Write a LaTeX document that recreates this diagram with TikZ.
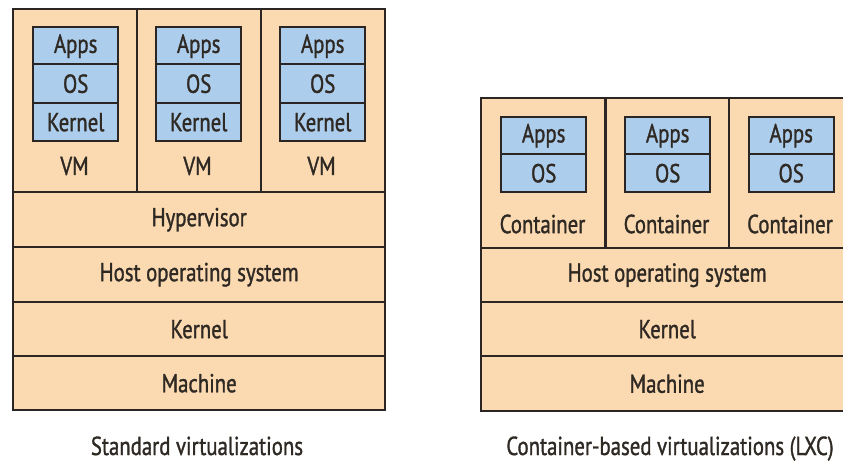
\documentclass[tikz,border=0pt]{standalone}
\usepackage{fontspec}
\setmainfont{PT Sans}[FakeStretch=0.8, FakeBold=1.2]
\definecolor{peach}{HTML}{FBDAB2}
\definecolor{paleblue}{HTML}{ACCDEC}
\definecolor{edge}{HTML}{2B2623}
\definecolor{ink}{HTML}{2F2924}
\tikzset{
  every node/.style={font=\fontsize{26}{28}\selectfont, text=ink},
  layer/.style={draw=edge, line width=2.4pt, fill=peach, inner sep=0pt, anchor=north west},
  cell/.style={draw=edge, line width=2.4pt, fill=paleblue, inner sep=0pt, anchor=north west,
    minimum width=85pt, minimum height=38pt},
  tag/.style={inner sep=0pt},
  caption/.style={inner sep=0pt, anchor=base},
}
\begin{document}
\begin{tikzpicture}[x=1pt, y=-1pt]
\useasboundingbox[fill=white] (0,0) rectangle (843,461);
\clip (0,0) rectangle (843,461);

% ---- Standard virtualization stack ----
\foreach \i/\x in {1/12, 2/136, 3/260} {
  \node[layer, minimum width=124pt, minimum height=183pt] (vm\i) at (\x,8) {};
}
\foreach \i/\cx in {1/74.5, 2/197.5, 3/321.5} {
  \node[cell] (apps\i) at (\cx-42.5,26) {Apps};
  \node[cell, minimum height=39pt] (os\i) at (\cx-42.5,63) {OS};
  \node[cell] (kern\i) at (\cx-42.5,102) {Kernel};
  \node[tag] (vmlabel\i) at (\cx,166) {VM};
}
\node[layer, minimum width=372pt, minimum height=55pt] (hyp) at (12,191) {Hypervisor};
\node[layer, minimum width=372pt, minimum height=55pt] (hostA) at (12,246) {Host operating system};
\node[layer, minimum width=372pt, minimum height=54pt] (kernA) at (12,301) {Kernel};
\node[layer, minimum width=372pt, minimum height=54pt] (machA) at (12,355) {Machine};
\node[caption] (capA) at (197,455) {Standard virtualizations};

% ---- Container-based stack ----
\foreach \i/\x in {1/480, 2/605, 3/728} {
  \node[layer, minimum width=124pt, minimum height=150pt] (ct\i) at (\x,97) {};
}
\foreach \i/\cx in {1/542.5, 2/666.5, 3/790} {
  \node[cell, minimum height=37pt] (capps\i) at (\cx-42.5,116) {Apps};
  \node[cell] (cos\i) at (\cx-42.5,153) {OS};
  \node[tag] (ctlabel\i) at (\cx,224) {Container};
}
\node[layer, minimum width=372pt, minimum height=54pt] (hostB) at (480,247) {Host operating system};
\node[layer, minimum width=372pt, minimum height=54pt] (kernB) at (480,301) {Kernel};
\node[layer, minimum width=372pt, minimum height=55pt] (machB) at (480,355) {Machine};
\node[caption] (capB) at (670,455) {Container-based virtualizations (LXC)};
\end{tikzpicture}
\end{document}
